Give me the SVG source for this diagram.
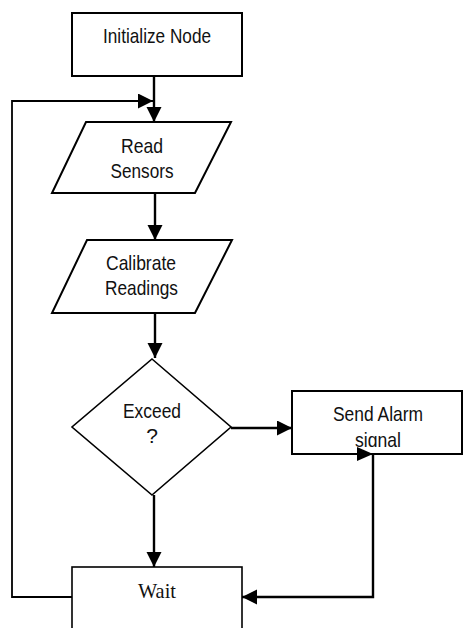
<svg xmlns="http://www.w3.org/2000/svg" width="464" height="628" viewBox="0 0 464 628">
  <style>
    .box { fill: #fff; stroke: #000; stroke-width: 2; }
    .thin { fill: #fff; stroke: #000; stroke-width: 1.6; }
    .conn { fill: none; stroke: #000; stroke-width: 2.4; }
    .connthin { fill: none; stroke: #000; stroke-width: 1.8; }
    .lbl { font-family: "Liberation Sans Narrow", "Liberation Sans", Arial, sans-serif; font-size: 21px; fill: #111; text-anchor: middle; }
    .serif { font-family: "Liberation Serif", "Times New Roman", serif; font-size: 21px; fill: #111; text-anchor: middle; }
  </style>
  <defs>
    <marker id="arr" markerUnits="userSpaceOnUse" markerWidth="16" markerHeight="16" refX="15" refY="7.5" orient="auto">
      <path d="M0,0 L15,7.5 L0,15 z" fill="#000"/>
    </marker>
    <clipPath id="clipSig">
      <rect x="292" y="391" width="171" height="56"/>
    </clipPath>
  </defs>

  <g id="connectors">
    <line class="conn" x1="154" y1="76" x2="154" y2="122" marker-end="url(#arr)"/>
    <polyline class="connthin" points="72,597 12,597 12,101 153,101" marker-end="url(#arr)"/>
    <line class="conn" x1="155" y1="193" x2="155" y2="240" marker-end="url(#arr)"/>
    <line class="conn" x1="155" y1="313" x2="155" y2="358" marker-end="url(#arr)"/>
    <line class="conn" x1="231" y1="428" x2="292" y2="428" marker-end="url(#arr)"/>
    <line class="conn" x1="154" y1="495" x2="154" y2="567" marker-end="url(#arr)"/>
    <polyline class="conn" points="373,454 373,597 242,597" marker-end="url(#arr)"/>
  </g>

  <g id="initialize">
    <rect class="box" x="72" y="13" width="170" height="63"/>
    <text class="lbl" x="157" y="43" textLength="108" lengthAdjust="spacingAndGlyphs">Initialize Node</text>
  </g>

  <g id="read-sensors">
    <polygon class="box" points="86,122 231,122 195,193 52,193"/>
    <text class="lbl" x="142" y="153" textLength="42" lengthAdjust="spacingAndGlyphs">Read</text>
    <text class="lbl" x="142" y="178" textLength="63" lengthAdjust="spacingAndGlyphs">Sensors</text>
  </g>

  <g id="calibrate">
    <polygon class="box" points="87,240 232,240 195,313 52,313"/>
    <text class="lbl" x="141" y="270" textLength="70" lengthAdjust="spacingAndGlyphs">Calibrate</text>
    <text class="lbl" x="141.5" y="295" textLength="73" lengthAdjust="spacingAndGlyphs">Readings</text>
  </g>

  <g id="exceed">
    <polygon class="thin" points="152,359 231,427 152,495 72,427"/>
    <text class="lbl" x="152" y="418" textLength="58" lengthAdjust="spacingAndGlyphs">Exceed</text>
    <text class="lbl" x="152" y="443">?</text>
  </g>

  <g id="send-alarm">
    <rect class="box" x="292" y="391" width="170" height="63"/>
    <text class="lbl" x="378" y="421" textLength="90" lengthAdjust="spacingAndGlyphs">Send Alarm</text>
    <text class="lbl" x="378" y="447" textLength="46" lengthAdjust="spacingAndGlyphs" clip-path="url(#clipSig)">signal</text>
    <path d="M357,447 L373,454 L357,461 z" fill="#000"/>
  </g>

  <g id="wait">
    <rect class="thin" x="72" y="567" width="170" height="80"/>
    <text class="serif" x="157" y="598" textLength="38" lengthAdjust="spacingAndGlyphs">Wait</text>
  </g>
</svg>
